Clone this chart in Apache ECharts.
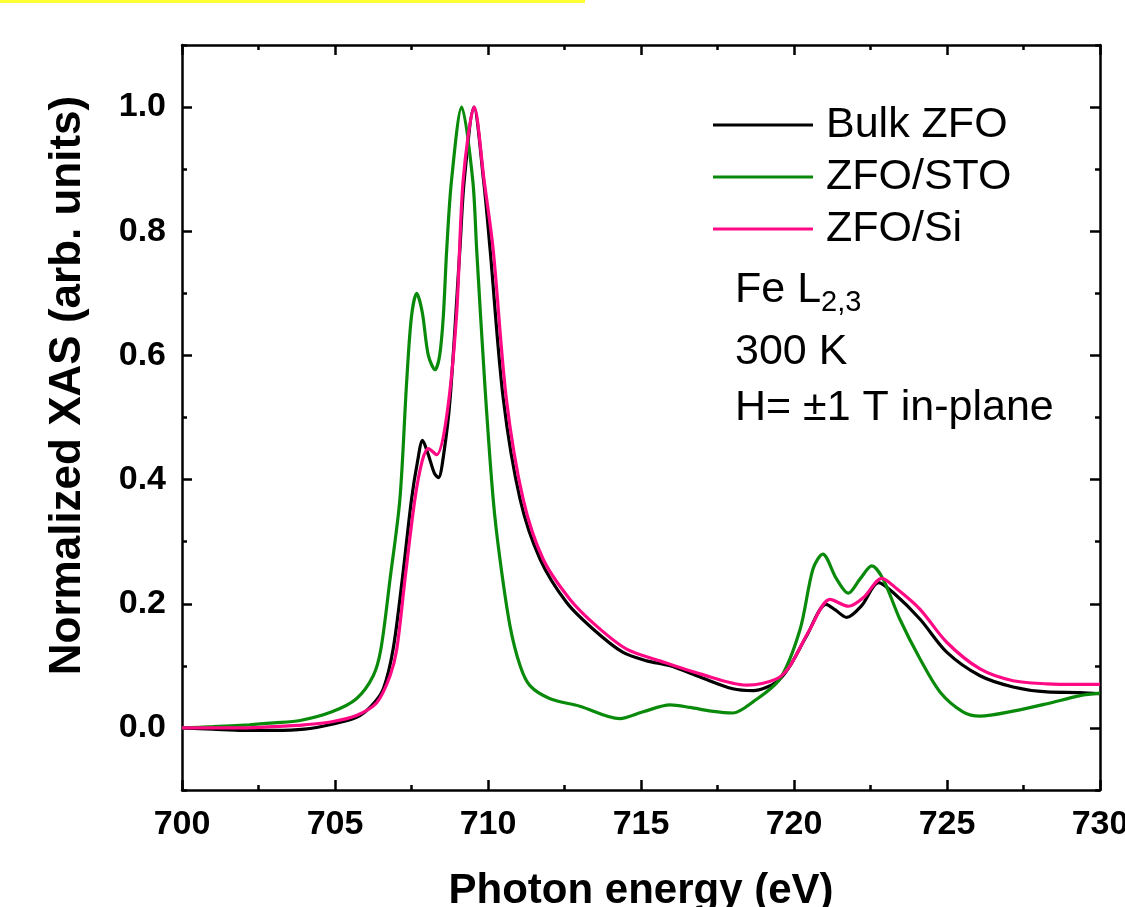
<!DOCTYPE html>
<html>
<head>
<meta charset="utf-8">
<script src="https://cdn.jsdelivr.net/npm/echarts@6/dist/echarts.min.js"></script>
<style>
  html, body { margin: 0; padding: 0; background: #fff; overflow: hidden; }
  #chart { position: fixed; left: 0; top: 0; width: 1125px; height: 907px; }
</style>
</head>
<body>
<div id="chart"></div>
<script>
// Bulk ZFO
var bulkE = [700, 701, 702, 703, 704, 704.9, 705.7, 706.2, 706.58, 706.9, 707.2, 707.5, 707.7, 707.86, 708.05, 708.25, 708.38, 708.55, 708.76, 709.08, 709.22, 709.54, 709.86, 710.07, 710.5, 711.05, 711.7, 712.57, 713.44, 714.4, 715.19, 715.95, 716.93, 718.0, 718.67, 719.43, 719.87, 720.41, 721.05, 721.35, 721.72, 722.21, 722.76, 723.24, 724.12, 724.99, 726.08, 727.16, 728.27, 729.35, 730];
var bulkV = [0.0, -0.002, -0.004, -0.004, -0.002, 0.006, 0.017, 0.036, 0.063, 0.127, 0.24, 0.368, 0.43, 0.463, 0.44, 0.41, 0.403, 0.44, 0.529, 0.77, 0.88, 1.0, 0.88, 0.77, 0.53, 0.368, 0.272, 0.202, 0.159, 0.122, 0.108, 0.1, 0.082, 0.063, 0.06, 0.074, 0.1, 0.148, 0.199, 0.19, 0.178, 0.197, 0.234, 0.218, 0.175, 0.122, 0.084, 0.066, 0.058, 0.057, 0.055];

// ZFO/STO
var stoE = [700, 701, 702.2, 703, 703.86, 704.9, 705.7, 706.25, 706.5, 706.8, 707.12, 707.34, 707.5, 707.67, 707.85, 708.05, 708.27, 708.42, 708.54, 708.65, 708.81, 709.14, 709.5, 709.63, 709.9, 710.17, 710.39, 710.72, 711.05, 711.37, 712.03, 713.0, 714.3, 715.07, 715.95, 716.6, 717.3, 718.0, 718.66, 719.54, 720.2, 720.62, 720.94, 721.39, 721.77, 722.16, 722.54, 722.91, 723.46, 724.12, 724.77, 725.52, 726.08, 727.16, 728.27, 729.35, 730];
var stoV = [0.0, 0.002, 0.005, 0.008, 0.012, 0.026, 0.047, 0.084, 0.127, 0.24, 0.368, 0.556, 0.663, 0.70, 0.67, 0.6, 0.577, 0.6, 0.663, 0.77, 0.883, 1.0, 0.883, 0.77, 0.55, 0.368, 0.272, 0.164, 0.1, 0.068, 0.047, 0.035, 0.015, 0.026, 0.037, 0.033, 0.027, 0.024, 0.042, 0.079, 0.159, 0.256, 0.28, 0.24, 0.217, 0.24, 0.261, 0.24, 0.175, 0.111, 0.058, 0.026, 0.019, 0.027, 0.039, 0.052, 0.056];

// ZFO/Si
var siE = [700, 701, 702, 703, 704, 704.9, 705.7, 706.37, 706.8, 707.02, 707.3, 707.61, 707.85, 708.05, 708.32, 708.65, 708.97, 709.19, 709.55, 709.87, 710.17, 710.6, 711.15, 711.8, 712.68, 713.55, 714.53, 715.62, 716.93, 718.45, 719.43, 719.87, 720.52, 721.18, 721.78, 722.27, 722.87, 723.36, 724.12, 724.99, 726.08, 727.16, 728.27, 729.2, 730];
var siV = [0.0, 0.0, 0.0, 0.002, 0.005, 0.01, 0.02, 0.041, 0.084, 0.127, 0.245, 0.368, 0.43, 0.45, 0.44, 0.502, 0.663, 0.883, 1.0, 0.883, 0.77, 0.53, 0.368, 0.272, 0.207, 0.164, 0.127, 0.108, 0.087, 0.069, 0.079, 0.1, 0.159, 0.207, 0.196, 0.21, 0.241, 0.224, 0.191, 0.138, 0.095, 0.076, 0.071, 0.07, 0.07];

var majorY = [0, 0.2, 0.4, 0.6, 0.8, 1.0];
var minorY = [-0.1, 0.1, 0.3, 0.5, 0.7, 0.9, 1.1];

function pairs(xs, ys) {
  var out = [];
  for (var i = 0; i < xs.length; i++) out.push([xs[i], ys[i]]);
  return out;
}

var font = "'Liberation Sans', Arial, sans-serif";
var chart = echarts.init(document.getElementById('chart'), null, { width: 1125, height: 907 });

function xAx(pos, showLabel) {
  return {
    type: 'value', position: pos, min: 700, max: 730, interval: 5,
    axisLine: { show: true, onZero: false, lineStyle: { color: '#000', width: 2.5 } },
    axisTick: { show: true, inside: true, length: 10, lineStyle: { color: '#000', width: 2.5 } },
    minorTick: { show: true, splitNumber: 2, length: 5, lineStyle: { color: '#000', width: 2.5 } },
    splitLine: { show: false },
    axisLabel: { show: showLabel, color: '#000', fontFamily: font, fontWeight: 'bold', fontSize: 34, margin: 18 }
  };
}

function yAx(pos, ticks, len, showLabel, showLine) {
  return {
    type: 'value', position: pos, min: -0.1, max: 1.1, interval: 0.1,
    axisLine: { show: showLine, onZero: false, lineStyle: { color: '#000', width: 2.5 } },
    axisTick: { show: true, inside: true, length: len, customValues: ticks, lineStyle: { color: '#000', width: 2.5 } },
    splitLine: { show: false },
    axisLabel: {
      show: showLabel, customValues: majorY, color: '#000', fontFamily: font, fontWeight: 'bold', fontSize: 34, margin: 16,
      formatter: function (v) { return v.toFixed(1); }
    }
  };
}

var xBottom = xAx('bottom', true);
xBottom.name = 'Photon energy (eV)';
xBottom.nameLocation = 'middle';
xBottom.nameGap = 80;
xBottom.nameTextStyle = { color: '#000', fontFamily: font, fontWeight: 'bold', fontSize: 42 };

var yLeft = yAx('left', majorY, 10, true, true);
yLeft.name = 'Normalized XAS (arb. units)';
yLeft.nameLocation = 'middle';
yLeft.nameGap = 92;
yLeft.nameTextStyle = { color: '#000', fontFamily: font, fontWeight: 'bold', fontSize: 44, padding: [0, 0, 0, 64] };

var option = {
  animation: false,
  backgroundColor: '#fff',
  grid: { left: 182, right: 25, top: 45, bottom: 117, containLabel: false, outerBoundsMode: 'none' },
  legend: {
    orient: 'vertical', left: 713, top: 99, padding: 0, itemGap: 0,
    icon: 'rect', itemWidth: 100, itemHeight: 3,
    textStyle: { color: '#000', fontFamily: font, fontSize: 43, lineHeight: 52, padding: [0, 0, 0, 8] },
    data: ['Bulk ZFO', 'ZFO/STO', 'ZFO/Si']
  },
  xAxis: [xBottom, xAx('top', false)],
  yAxis: [
    yLeft,
    yAx('left', minorY, 5, false, false),
    yAx('right', majorY, 10, false, true),
    yAx('right', minorY, 5, false, false)
  ],
  graphic: [
    { type: 'rect', left: 0, top: 0, shape: { width: 585, height: 3 }, style: { fill: '#ffff33' } },
    { type: 'text', left: 735, top: 269, style: { text: 'Fe L', font: '43px ' + font, fill: '#000' } },
    { type: 'text', left: 821, top: 288, style: { text: '2,3', font: '29px ' + font, fill: '#000' } },
    { type: 'text', left: 735, top: 331, style: { text: '300 K', font: '43px ' + font, fill: '#000' } },
    { type: 'text', left: 735, top: 387, style: { text: 'H= \u00b11 T in-plane', font: '43px ' + font, fill: '#000' } }
  ],
  series: [
    { name: 'Bulk ZFO', type: 'line', data: pairs(bulkE, bulkV), showSymbol: false, symbol: 'none', smooth: 0.3, color: '#000000', lineStyle: { width: 3.2 } },
    { name: 'ZFO/STO', type: 'line', data: pairs(stoE, stoV), showSymbol: false, symbol: 'none', smooth: 0.3, color: '#0a8a0a', lineStyle: { width: 3.2 } },
    { name: 'ZFO/Si', type: 'line', data: pairs(siE, siV), showSymbol: false, symbol: 'none', smooth: 0.3, color: '#ff0a84', lineStyle: { width: 3.2 } }
  ]
};
chart.setOption(option);
</script>
</body>
</html>
